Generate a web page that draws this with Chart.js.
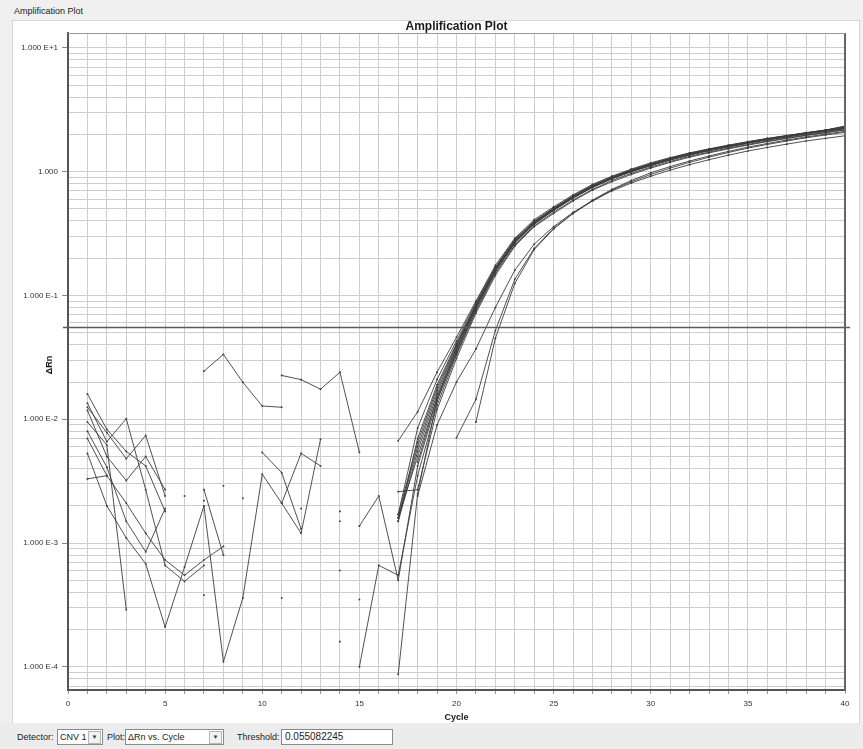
<!DOCTYPE html>
<html>
<head>
<meta charset="utf-8">
<script src="https://cdn.jsdelivr.net/npm/chart.js@4.4.1/dist/chart.umd.min.js"></script>
<style>
  html, body { margin: 0; padding: 0; }
  body { width: 863px; height: 749px; position: relative; overflow: hidden; background: #f0f0f0;
         font-family: Arial, "Liberation Sans", sans-serif; color: #222; }
  #head { position: absolute; left: 14px; top: 6px; font-size: 9px; }
  #frame { position: absolute; left: 12px; top: 20px; width: 846px; height: 702px;
           background: #fff; border: 1px solid #d6d6d6; border-bottom: none; }
  #plot { position: absolute; left: 0; top: 0; }
  #bar { position: absolute; left: 0; top: 723px; width: 863px; height: 26px; background: #ececec; font-size: 9px; }
  .lbl { position: absolute; top: 9px; }
  .box { position: absolute; top: 6px; height: 14px; background: #fff; border: 1px solid #8a8a8a; font-size: 9px; line-height: 14px; }
  .box span { position: absolute; left: 2px; top: 0; }
  .btn { position: absolute; right: 1px; top: 1px; width: 11px; height: 11px; border: 1px solid #b5b5b5; background: #f2f2f2;
         font-size: 6px; line-height: 11px; text-align: center; color: #333; }
</style>
</head>
<body>
<div id="head">Amplification Plot</div>
<div id="frame"></div>
<canvas id="plot" width="863" height="723"></canvas>
<div id="bar">
  <div class="lbl" style="left:17px">Detector:</div>
  <div class="box" style="left:57px;width:44px"><span>CNV 1</span><div class="btn">&#9660;</div></div>
  <div class="lbl" style="left:107px">Plot:</div>
  <div class="box" style="left:125px;width:97px"><span>&Delta;Rn vs. Cycle</span><div class="btn">&#9660;</div></div>
  <div class="lbl" style="left:237px">Threshold:</div>
  <div class="box" style="left:281px;width:110px;font-size:10px"><span style="left:3px">0.055082245</span></div>
</div>
<script>
// Cycle numbers (x) and ΔRn per well (y); null = value not shown on the log axis
const _ = null;
const cycles = [1,2,3,4,5,6,7,8,9,10,11,12,13,14,15,16,17,18,19,20,
                21,22,23,24,25,26,27,28,29,30,31,32,33,34,35,36,37,38,39,40];

const well01 = [0.0160,0.0083,0.0055,0.0042,0.0018,_,_,_,_,_,_,_,_,_,_,_,
  0.0067,0.0115,0.024,0.046,0.090,0.175,0.29,0.41,0.52,0.65,0.79,0.92,1.05,1.18,1.30,1.42,1.53,1.64,1.75,1.86,1.96,2.07,2.17,2.30];
const well02 = [0.0135,0.0066,0.0101,0.0027,0.00066,0.00049,0.00066,_,_,_,_,_,_,_,0.00035,_,
  0.0017,0.0085,0.021,0.043,0.088,0.170,0.285,0.40,0.51,0.64,0.78,0.91,1.04,1.16,1.29,1.41,1.52,1.63,1.74,1.85,1.95,2.06,2.16,2.28];
const well03 = [0.0125,0.0078,0.0048,0.0074,0.0024,_,_,0.0029,_,_,_,_,_,_,_,_,
  0.0015,0.0070,0.019,0.041,0.085,0.166,0.28,0.395,0.505,0.63,0.77,0.90,1.03,1.15,1.28,1.40,1.51,1.62,1.73,1.84,1.94,2.05,2.15,2.27];
const well04 = [0.0118,0.0050,0.0032,0.0050,0.0027,_,0.0022,_,_,0.0054,0.0037,0.0013,_,_,_,_,
  0.0016,0.0060,0.017,0.039,0.083,0.163,0.275,0.39,0.50,0.625,0.76,0.89,1.02,1.14,1.27,1.39,1.50,1.61,1.72,1.83,1.93,2.04,2.14,2.26];
const well05 = [0.0095,0.0062,0.00029,_,_,_,_,_,0.0023,_,0.0021,0.0053,0.0042,_,_,_,
  0.0016,0.0050,0.015,0.037,0.081,0.160,0.27,0.385,0.495,0.62,0.755,0.885,1.01,1.13,1.26,1.38,1.50,1.61,1.72,1.83,1.94,2.05,2.16,2.32];
const well06 = [0.0080,0.0041,0.0015,0.00085,0.0019,_,0.0027,0.0008,_,_,_,_,_,_,0.00137,0.0024,
  0.0005,0.0042,0.014,0.035,0.079,0.158,0.268,0.38,0.49,0.615,0.75,0.88,1.00,1.12,1.24,1.36,1.47,1.58,1.69,1.80,1.90,2.01,2.11,2.22];
const well07 = [0.0070,0.0035,0.0021,0.0012,0.00073,0.00055,0.00073,0.00094,_,_,_,_,_,_,0.00010,0.00066,
  0.00055,0.0035,0.013,0.033,0.076,0.155,0.262,0.375,0.485,0.61,0.745,0.875,1.00,1.12,1.25,1.37,1.49,1.60,1.71,1.82,1.92,2.03,2.14,2.29];
const well08 = [0.0053,0.0020,0.0011,0.00068,0.00021,0.00064,0.0020,0.00011,0.00036,0.0036,0.0021,0.0012,0.0069,_,_,_,
  0.000087,0.0025,0.0145,0.034,0.075,0.150,0.255,0.365,0.47,0.59,0.72,0.85,0.97,1.09,1.21,1.33,1.44,1.55,1.66,1.77,1.87,1.98,2.08,2.19];
const well09 = [0.0033,0.0035,_,_,_,0.0024,_,_,_,_,0.00036,_,_,0.0018,_,_,
  0.0015,0.0055,0.016,0.038,0.082,0.161,0.272,0.388,0.498,0.625,0.76,0.89,1.02,1.14,1.27,1.39,1.51,1.62,1.73,1.84,1.95,2.06,2.17,2.34];
const well10 = [_,_,_,_,_,_,0.0245,0.0334,0.0199,0.0128,0.0125,_,_,0.0015,_,_,
  0.0026,0.0027,0.012,0.031,0.072,0.145,0.25,0.36,0.46,0.58,0.71,0.83,0.95,1.07,1.19,1.31,1.42,1.53,1.64,1.75,1.85,1.96,2.06,2.17];
const well11 = [_,_,_,_,_,_,0.00038,_,_,_,0.0226,0.0209,0.0175,0.024,0.0054,_,
  _,0.0024,0.009,0.020,0.037,0.080,0.16,0.26,0.36,0.47,0.58,0.70,0.81,0.92,1.03,1.14,1.25,1.36,1.47,1.57,1.67,1.77,1.86,1.95];
const well12 = [_,_,_,_,_,_,_,_,_,_,_,0.0019,_,0.0006,_,_,
  _,_,_,0.0071,0.0145,0.052,0.135,0.24,0.35,0.46,0.58,0.71,0.83,0.95,1.07,1.19,1.31,1.43,1.55,1.66,1.77,1.88,1.98,2.08];
const well13 = [_,_,_,_,_,_,_,_,_,_,_,_,_,0.00016,_,_,
  _,_,_,_,0.0095,0.045,0.125,0.235,0.345,0.46,0.59,0.72,0.85,0.98,1.10,1.22,1.34,1.46,1.58,1.69,1.80,1.91,2.01,2.12];
const well14 = [_,_,_,_,_,_,_,_,_,_,_,_,_,_,_,_,
  0.0017,0.0065,0.018,0.040,0.084,0.165,0.278,0.392,0.50,0.63,0.765,0.895,1.02,1.15,1.27,1.39,1.51,1.62,1.73,1.84,1.95,2.05,2.16,2.31];
const well15 = [_,_,_,_,_,_,_,_,_,_,_,_,_,_,_,_,
  _,0.0045,0.015,0.036,0.080,0.158,0.268,0.382,0.49,0.62,0.75,0.88,1.01,1.13,1.25,1.37,1.49,1.60,1.71,1.82,1.92,2.03,2.13,2.24];

const threshold = 0.055082245;

// Axis decades and their printed labels
const decadeValues = [1e-4, 1e-3, 1e-2, 1e-1, 1, 10];
const decadeLabels = ['1.000 E-4', '1.000 E-3', '1.000 E-2', '1.000 E-1', '1.000', '1.000 E+1'];
const yMin = 6.5e-5, yMax = 13.2;

const wells = [well01, well02, well03, well04, well05, well06, well07, well08,
               well09, well10, well11, well12, well13, well14, well15];

const CURVE = '#3d3d3d';
const datasets = wells.map(w => ({
  data: w.map((v, i) => ({ x: cycles[i], y: v })),
  borderColor: CURVE,
  backgroundColor: CURVE,
  borderWidth: 0.9,
  pointRadius: 1.2,
  pointStyle: 'rect',
  pointBorderWidth: 0,
  spanGaps: false,
  tension: 0
}));

// grid lines at 1..9 x 10^k inside the axis range
function logGrid(min, max) {
  const out = [];
  for (let k = -5; k <= 1; k++) {
    for (let m = 1; m <= 9; m++) {
      const v = +(m * Math.pow(10, k)).toPrecision(6);
      if (v >= min && v <= max) out.push(v);
    }
  }
  return out;
}
function decadeIndex(v) {
  return decadeValues.findIndex(d => Math.abs(v - d) / d < 1e-6);
}

const decor = {
  id: 'decor',
  afterDatasetsDraw(chart) {
    const { ctx, chartArea: a, scales } = chart;
    const ty = scales.y.getPixelForValue(threshold);
    ctx.save();
    ctx.strokeStyle = '#5a5a5a';
    ctx.lineWidth = 1.5;
    ctx.beginPath();
    ctx.moveTo(a.left - 5, ty);
    ctx.lineTo(a.right + 5, ty);
    ctx.stroke();
    ctx.restore();
  },
  afterDraw(chart) {
    const { ctx, chartArea: a } = chart;
    ctx.save();
    // right and top edges of the plot box
    ctx.strokeStyle = '#666';
    ctx.lineWidth = 2;
    ctx.beginPath();
    ctx.moveTo(a.right, a.top);
    ctx.lineTo(a.right, a.bottom);
    ctx.stroke();
    ctx.strokeStyle = '#999';
    ctx.lineWidth = 1;
    ctx.beginPath();
    ctx.moveTo(a.left, a.top + 0.5);
    ctx.lineTo(a.right, a.top + 0.5);
    ctx.stroke();
    // titles
    ctx.fillStyle = '#1a1a1a';
    ctx.textAlign = 'center';
    ctx.textBaseline = 'middle';
    ctx.font = 'bold 12px Arial, "Liberation Sans", sans-serif';
    ctx.fillText('Amplification Plot', (a.left + a.right) / 2, 27);
    ctx.font = 'bold 9px Arial, "Liberation Sans", sans-serif';
    ctx.fillText('Cycle', (a.left + a.right) / 2, 718);
    ctx.translate(50, 365);
    ctx.rotate(-Math.PI / 2);
    ctx.fillText('\u0394Rn', 0, 0);
    ctx.restore();
  }
};

new Chart(document.getElementById('plot'), {
  type: 'line',
  data: { datasets },
  options: {
    responsive: false,
    devicePixelRatio: 1,
    animation: false,
    events: [],
    layout: { padding: { left: 0, top: 33, right: 18, bottom: 0 } },
    plugins: { legend: { display: false }, tooltip: { enabled: false }, title: { display: false } },
    scales: {
      x: {
        type: 'linear',
        min: 0,
        max: 40,
        ticks: {
          stepSize: 1,
          autoSkip: false,
          maxRotation: 0,
          padding: 5,
          color: '#333',
          font: { size: 8, family: 'Arial, "Liberation Sans", sans-serif' },
          callback: v => (v % 5 === 0 ? String(v) : '')
        },
        grid: { color: '#cdcdcd', lineWidth: 1, tickLength: 4, tickColor: '#9a9a9a' },
        border: { color: '#555', width: 2 },
        afterFit: s => { s.height = 33; }
      },
      y: {
        type: 'logarithmic',
        min: yMin,
        max: yMax,
        afterBuildTicks: s => { s.ticks = logGrid(yMin, yMax).map(v => ({ value: v })); },
        ticks: {
          autoSkip: false,
          padding: 4,
          color: '#333',
          font: { size: 8, family: 'Arial, "Liberation Sans", sans-serif' },
          callback: v => { const i = decadeIndex(v); return i >= 0 ? decadeLabels[i] : ''; }
        },
        grid: {
          color: '#cdcdcd',
          lineWidth: 1,
          tickLength: 6,
          tickColor: c => (c.tick && decadeIndex(c.tick.value) >= 0 ? '#8a8a8a' : 'rgba(0,0,0,0)')
        },
        border: { color: '#555', width: 2 },
        afterFit: s => { s.width = 68; }
      }
    }
  },
  plugins: [decor]
});
</script>
</body>
</html>
